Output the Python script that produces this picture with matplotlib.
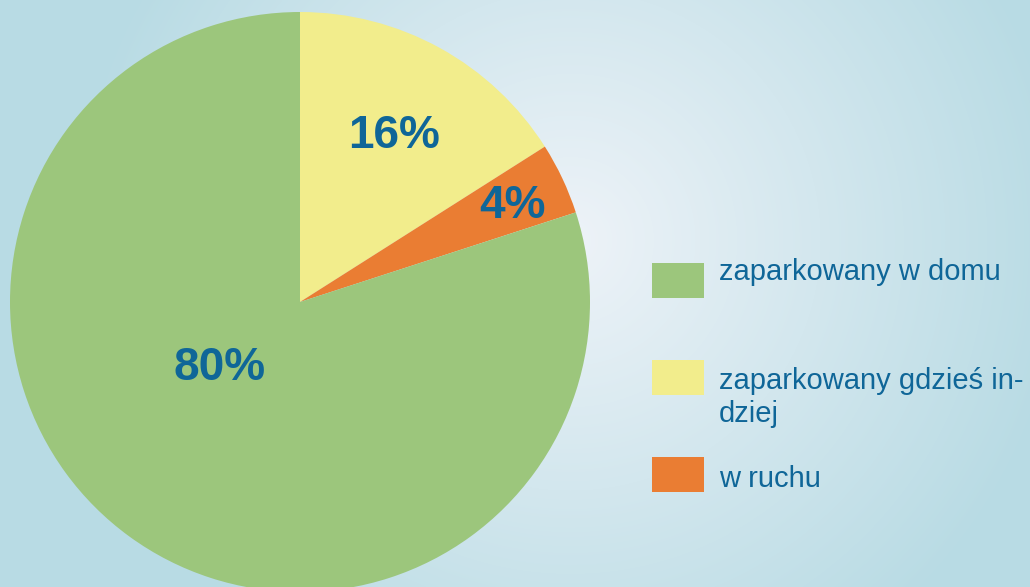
import numpy as np
import matplotlib.pyplot as plt
from matplotlib.patches import Rectangle
from matplotlib.transforms import offset_copy

plt.rcParams["font.family"] = ["Liberation Sans", "DejaVu Sans"]

# Data (legend order)
categories = ["zaparkowany w domu", "zaparkowany gdzieś in-\ndziej", "w ruchu"]
shares = [80, 16, 4]
pct_labels = ["80%", "16%", "4%"]
colors = ["#9cc67c", "#f2ed8c", "#ea7d33"]

TEXT_COLOR = "#0f6698"
W, H = 1030, 587

fig = plt.figure(figsize=(W / 100, H / 100), dpi=100)

# Radial gradient background
bg = fig.add_axes([0, 0, 1, 1])
bg.set_axis_off()
yy, xx = np.mgrid[0:H, 0:W]
t = np.clip(np.hypot(xx - 570, yy - 240) / 500, 0, 1)[..., None]
c0 = np.array([238, 243, 248]) / 255
c1 = np.array([184, 219, 228]) / 255
bg.imshow(c0 * (1 - t) + c1 * t, aspect="auto", interpolation="bilinear")

# Pie: center at (300, 302) px, radius 290 px
ax = fig.add_axes([10 / W, (H - 302 - 290) / H, 580 / W, 580 / H])
order = [1, 2, 0]  # clockwise from 12 o'clock: yellow, orange, green
wedges, _ = ax.pie(
    [shares[i] for i in order],
    colors=[colors[i] for i in order],
    startangle=90,
    counterclock=False,
    radius=1,
    wedgeprops=dict(linewidth=0),
)
ax.set_xlim(-1, 1)
ax.set_ylim(-1, 1)
for w in wedges:
    w.set_clip_on(False)

# Percentage labels
label_dist = [0.35, 0.67, 0.81]
angle_shift = [-16, 0, 0]
shifted = offset_copy(ax.transData, fig=fig, y=-4, units="dots")
for w, i in zip(wedges, order):
    ang = np.deg2rad((w.theta1 + w.theta2) / 2 + angle_shift[i])
    ax.text(
        label_dist[i] * np.cos(ang),
        label_dist[i] * np.sin(ang),
        pct_labels[i],
        ha="center",
        va="center",
        fontsize=33,
        fontweight="bold",
        color=TEXT_COLOR,
        transform=shifted,
    )

# Legend drawn manually (pixel layout); baseline = last text line
box_tops = [263, 360, 457]
baselines = [280, 422, 487]
for i, label in enumerate(categories):
    fig.add_artist(
        Rectangle(
            (652 / W, 1 - (box_tops[i] + 35) / H),
            52 / W,
            35 / H,
            transform=fig.transFigure,
            facecolor=colors[i],
            edgecolor="none",
        )
    )
    fig.text(
        719 / W,
        1 - baselines[i] / H,
        label,
        ha="left",
        va="baseline",
        fontsize=21,
        linespacing=1.22,
        color=TEXT_COLOR,
    )

fig.savefig("out.png", dpi=100)
